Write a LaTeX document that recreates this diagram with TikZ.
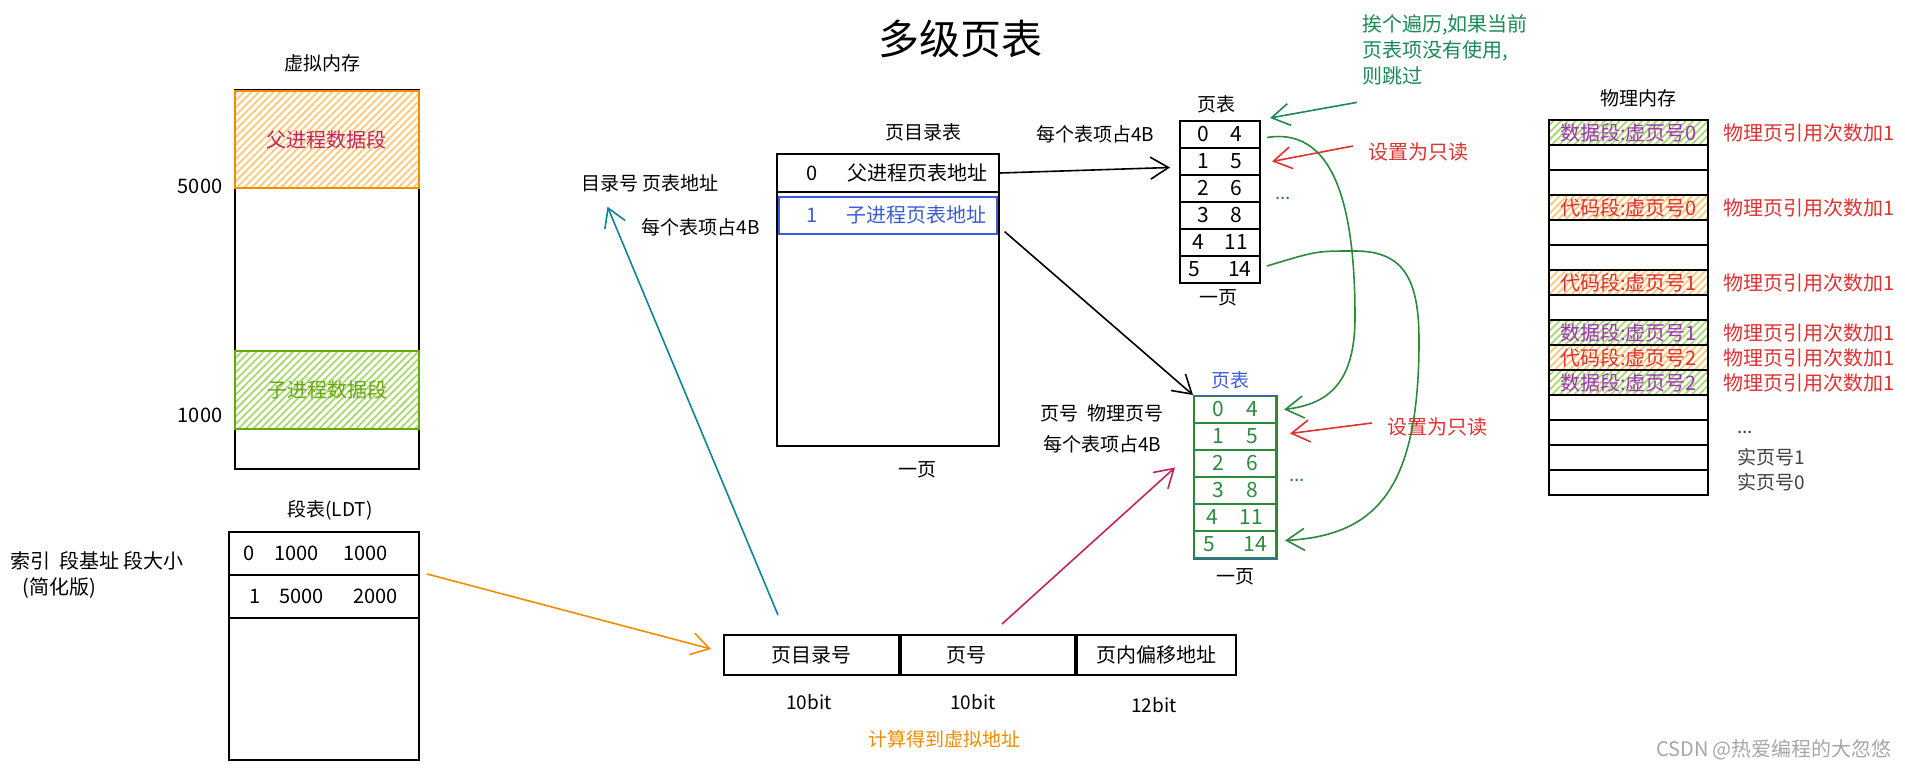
\documentclass[tikz,border=0pt]{standalone}
\usepackage{fontspec}
\setmainfont{Noto Sans CJK SC}
\usepackage{tikz}
\usetikzlibrary{arrows.meta,positioning,patterns.meta}

\definecolor{cTeal}{HTML}{0C8599}
\definecolor{cPink}{HTML}{C2255C}
\definecolor{cOrange}{HTML}{F08C00}
\definecolor{cPeach}{HTML}{FFC978}
\definecolor{cLime}{HTML}{66A80F}
\definecolor{cLimeL}{HTML}{A9D86E}
\definecolor{cGreen}{HTML}{2B8A3E}
\definecolor{cNote}{HTML}{1A8A55}
\definecolor{cBlue}{HTML}{3B5BDB}
\definecolor{cRed}{HTML}{E03131}
\definecolor{cViolet}{HTML}{9C36B5}

\begin{document}
\begin{tikzpicture}[x=0.5pt, y=-0.5pt,
    lbl/.style={font=\fontsize{9.5}{12.5}\selectfont, inner sep=0pt},
    big/.style={font=\fontsize{10}{13}\selectfont, inner sep=0pt},
    cell/.style={draw, line width=1pt, anchor=north west, inner sep=0pt, font=\fontsize{10}{12}\selectfont},
    numrow/.style={cell, font=\fontsize{10.5}{12}\selectfont},
    hatch/.style={pattern={Lines[angle=45,distance=2.6pt,line width=0.9pt]}, pattern color=#1},
    arr/.style={-{Straight Barb[length=9pt,width=11pt]}, line width=0.8pt}
]
\useasboundingbox (0,0) rectangle (1905,770);

% title
\node[font=\fontsize{20.5}{24}\selectfont] (title) at (960,39) {多级页表};

% virtual memory
\node[lbl] (vmtitle) at (322,63) {虚拟内存};
\node[cell, minimum width=92pt, minimum height=189.5pt] (vm) at (234,89) {};
\node[cell, hatch=cPeach, draw=cOrange, text=cPink, minimum width=92pt, minimum height=48.5pt] (fseg) at (234,90) {父进程数据段};
\node[cell, hatch=cLimeL, draw=cLime, text=cLime, minimum width=92pt, minimum height=39pt] (zseg) at (234,350) {子进程数据段};
\node[big] (a5000) at (200,186) {5000};
\node[big] (a1000) at (200,415) {1000};

% segment table
\node[lbl] (ldttitle) at (330,510) {段表(LDT)};
\node[cell, minimum width=95pt, minimum height=114pt] (ldt) at (228,531) {};
\node[cell, minimum width=95pt, minimum height=21.5pt, text width=81pt, align=left] (ldt0) at (228,531) {0\hspace{10pt}1000\hspace{12.5pt}1000};
\node[cell, minimum width=95pt, minimum height=21.5pt, text width=81pt, align=left] (ldt1) at (228,574) {\hspace*{3pt}1\hspace{9.5pt}5000\hspace{15pt}2000};
\node[big, anchor=west, align=left] (ldtcols) at (10,575) {索引\ \ 段基址 段大小\\\hspace*{6pt}(简化版)};

% page directory
\node[lbl] (pdtitle) at (923,132) {页目录表};
\node[cell, minimum width=111pt, minimum height=146pt] (pd) at (776,153) {};
\node[cell, minimum width=111pt, minimum height=19pt] (pd0) at (776,153) {\hspace*{9pt}0\hspace{14.5pt}父进程页表地址};
\node[cell, line width=0.8pt, draw=cBlue, text=cBlue, minimum width=109pt, minimum height=18.5pt] (pd1) at (778,196) {\hspace*{9pt}1\hspace{14.5pt}子进程页表地址};
\node[lbl] (pdpage) at (917,470) {一页};
\node[lbl] (dirlbl) at (650,183) {目录号 页表地址};
\node[lbl] (pdsize) at (701,227) {每个表项占4B};

% parent page table
\node[lbl] (ptatitle) at (1216,104) {页表};
\node[lbl] (ptasize) at (1095,134) {每个表项占4B};
\foreach \a/\b/\g [count=\i from 0] in {0/4/10.7pt,1/5/10.7pt,2/6/10.7pt,3/8/10.7pt,4/11/10.3pt,5/14/14pt}
  \node[numrow, minimum width=40pt, minimum height=13.5pt] (pta\i) at (1179,{120+27*\i}) {\a\hspace{\g}\b};
\node[lbl] (ptapage) at (1218,298) {一页};
\node[lbl, text=cGreen] (ptadots) at (1283,198) {...};

% child page table
\node[lbl, text=cBlue] (ptbtitle) at (1230,380) {页表};
\node[lbl] (ptbcols) at (1102,413) {页号\ \ 物理页号};
\node[lbl] (ptbsize) at (1102,444) {每个表项占4B};
\foreach \a/\b/\g [count=\i from 0] in {0/4/11.2pt,1/5/11.2pt,2/6/11.2pt,3/8/11.2pt,4/11/10.8pt,5/14/14.3pt}
  \node[numrow, draw=cGreen, text=cGreen, minimum width=41pt, minimum height=13.5pt] (ptb\i) at (1193,{395+27*\i}) {\a\hspace{\g}\b};
\draw[cBlue, line width=0.5pt] (ptb0.north west) rectangle (ptb5.south east);
\node[lbl] (ptbpage) at (1235,577) {一页};
\node[lbl, text=cGreen] (ptbdots) at (1297,480) {...};

% notes
\node[big, text=cNote, anchor=north west, align=left] (note) at (1362,14) {挨个遍历,如果当前\\页表项没有使用,\\则跳过};
\node[big, text=cRed, anchor=west] (ro1) at (1368,152) {设置为只读};
\node[big, text=cRed, anchor=west] (ro2) at (1387,427) {设置为只读};

% virtual address
\node[cell, minimum width=87.5pt, minimum height=20pt] (dirno) at (723,634) {页目录号};
\node[cell, minimum width=87pt, minimum height=20pt] (pgno) at (dirno.north east) {页号\hspace{22pt}\mbox{}};
\node[cell, minimum width=79.5pt, minimum height=20pt] (offs) at (pgno.north east) {页内偏移地址};
\node[lbl] (b1) at (809,702) {10bit};
\node[lbl] (b2) at (973,702) {10bit};
\node[lbl] (b3) at (1154,705) {12bit};
\node[lbl, text=cOrange] (vaddr) at (944,739) {计算得到虚拟地址};

% physical memory
\node[lbl] (pmtitle) at (1638,98) {物理内存};
\foreach \f/\c/\t [count=\i] in {cLimeL/cViolet/数据段:虚页号0, white/black/{}, white/black/{},
    cPeach/cRed/代码段:虚页号0, white/black/{}, white/black/{}, cPeach/cRed/代码段:虚页号1,
    white/black/{}, cLimeL/cViolet/数据段:虚页号1, cPeach/cRed/代码段:虚页号2,
    cLimeL/cViolet/数据段:虚页号2, white/black/{}, white/black/{}, white/black/{}, white/black/{}}
  \node[cell, hatch=\f, text=\c, font=\fontsize{10}{11}\selectfont, minimum width=79.5pt, minimum height=12.5pt] (pm\i) at (1548,{119+25*(\i-1)}) {\t};
\foreach \i in {1,4,7,9,10,11}
  \node[big, text=cRed, anchor=west] (cnt\i) at ([xshift=7pt]pm\i.east) {物理页引用次数加1};
\node[lbl, text=black!75, anchor=west] (pmdots) at ([xshift=14pt]pm13.east) {...};
\node[lbl, text=black!75, anchor=west] (real1) at ([xshift=14pt]pm14.east) {实页号1};
\node[lbl, text=black!75, anchor=west] (real0) at ([xshift=14pt]pm15.east) {实页号0};

\node[big, text=black!35] (mark) at (1774,750) {CSDN @热爱编程的大忽悠};

% connectors
\draw[arr, cOrange] ([xshift=3.5pt]ldt1.north east) -- ([xshift=-6pt,yshift=3pt]dirno.west);
\draw[arr, cTeal] ([xshift=27.5pt,yshift=9.5pt]dirno.north west) -- ([xshift=13.25pt,yshift=-7.25pt]dirlbl.south west);
\draw[arr, cPink] ([xshift=51pt,yshift=5pt]pgno.north west) -- ([xshift=-9pt,yshift=-2pt]ptb2.west);
\draw[arr] (pd0.east) -- ([xshift=-4.5pt,yshift=-3pt]pta1.west);
\draw[arr] ([xshift=3.5pt,yshift=1.5pt]pd1.south east) -- (ptb0.north west);
\draw[arr, cNote] ([xshift=-2.5pt,yshift=-8.5pt]note.south west) -- ([xshift=4.5pt,yshift=1pt]pta0.north east);
\draw[arr, cRed] ([xshift=-7.5pt,yshift=3pt]ro1.west) -- ([xshift=5.5pt]pta1.east);
\draw[arr, cRed] ([xshift=-7.5pt,yshift=2pt]ro2.west) -- ([xshift=6.5pt,yshift=1.5pt]ptb1.east);
\draw[arr, cGreen] ([xshift=3pt,yshift=-1.5pt]pta0.east) .. controls +(75,-12) and +(0,-90) .. ++(88,180)
    .. controls +(0,70) and +(40,-5) .. ([xshift=3.5pt]ptb0.east);
\draw[arr, cGreen] ([xshift=3pt,yshift=1.75pt]pta5.east) .. controls +(50,-15) and +(-40,0) .. ++(88,-15)
    .. controls +(50,0) and +(0,-60) .. ++(64,90)
    .. controls +(0,150) and +(90,-5) .. ([xshift=4pt,yshift=2pt]ptb5.east);
\end{tikzpicture}
\end{document}
